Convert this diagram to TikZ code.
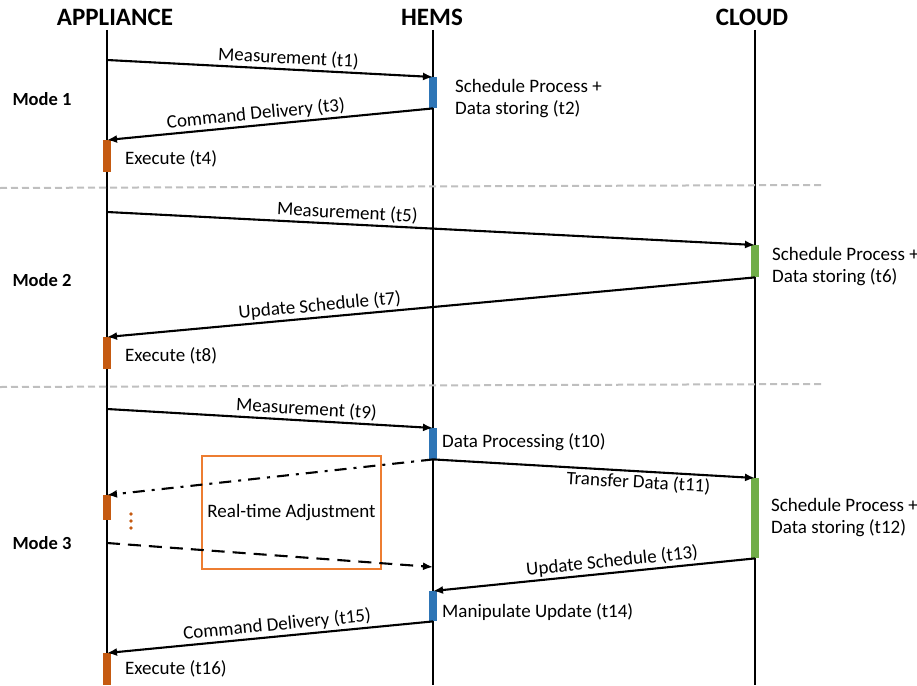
\documentclass[tikz,border=0pt]{standalone}
\usepackage{fontspec}
\setmainfont{Carlito}
\usetikzlibrary{arrows.meta}
\definecolor{barorange}{HTML}{C55A11}
\definecolor{barblue}{HTML}{2E75B6}
\definecolor{bargreen}{HTML}{70AD47}
\definecolor{boxorange}{HTML}{ED7D31}
\definecolor{sepgray}{HTML}{BFBFBF}
\tikzset{
  title/.style={font=\fontsize{25}{29}\selectfont\bfseries},
  modelbl/.style={font=\fontsize{18.5}{22}\selectfont\bfseries},
  txt/.style={font=\fontsize{19}{22}\selectfont, inner sep=0pt},
  lbl/.style={font=\fontsize{19}{22}\selectfont, sloped, inner sep=2pt},
  life/.style={line width=2.2pt},
  msg/.style={line width=2.1pt, -{Latex[length=10pt,width=8pt]}},
  sep/.style={sepgray, line width=2pt, dash pattern=on 7pt off 4pt},
  bar/.style={fill=#1, draw=none, minimum width=7.5pt, inner sep=0pt, anchor=north},
}
\begin{document}
\begin{tikzpicture}[x=1pt,y=-1pt]
\useasboundingbox (0,0) rectangle (917,685);
% titles
\node[title] (app) at (115,17) {APPLIANCE};
\node[title] (hems) at (432,17) {HEMS};
\node[title] (cloud) at (752,17) {CLOUD};
% lifelines
\coordinate (appTop) at (107,30);
\coordinate (appBot) at (107,685);
\coordinate (hemsTop) at (433,30);
\coordinate (hemsBot) at (433,685);
\coordinate (cloudTop) at (755,30);
\coordinate (cloudBot) at (755,685);
\draw[life] (appTop) -- (appBot);
\draw[life] (hemsTop) -- (hemsBot);
\draw[life] (cloudTop) -- (cloudBot);
% separators
\coordinate (s1a) at (0,188); \coordinate (s1b) at (822,185);
\coordinate (s2a) at (0,387); \coordinate (s2b) at (822,384);
\draw[sep] (s1a) -- (s1b);
\draw[sep] (s2a) -- (s2b);
% mode labels
\node[modelbl] (mode1) at (42,99) {Mode 1};
\node[modelbl] (mode2) at (42,280) {Mode 2};
\node[modelbl] (mode3) at (42,543) {Mode 3};

% ---------- Mode 1
\node[bar=barblue, minimum height=31pt] (b1) at (433,77) {};
\node[bar=barorange, minimum height=32pt] (e1) at (107,140) {};
\coordinate (m1s) at (107,60);
\draw[msg] (m1s) -- node[lbl, above, pos=0.555] {Measurement (t1)} (b1.north);
\draw[msg] (b1.south) -- node[lbl, above, pos=0.54] {Command Delivery (t3)} (e1.north);
\node[txt, anchor=west, align=left] (t2) at (455,99) {Schedule Process +\\Data storing (t2)};
\node[txt, anchor=west] (t4) at (125,159) {Execute (t4)};

% ---------- Mode 2
\node[bar=bargreen, minimum height=32pt] (g1) at (755,245) {};
\node[bar=barorange, minimum height=32pt] (e2) at (107,337) {};
\coordinate (m5s) at (107,212);
\draw[msg] (m5s) -- node[lbl, above, pos=0.37] {Measurement (t5)} (g1.north);
\draw[msg] (g1.south) -- node[lbl, above, pos=0.67] {Update Schedule (t7)} (e2.north);
\node[txt, anchor=west, align=left] (t6) at (772,267) {Schedule Process +\\Data storing (t6)};
\node[txt, anchor=west] (t8) at (125,356) {Execute (t8)};

% ---------- Mode 3
\node[bar=barblue, minimum height=31pt] (b2) at (433,428) {};
\node[bar=barorange, minimum height=25pt] (e3) at (107,495) {};
\node[bar=bargreen, minimum height=80pt] (g2) at (755,478) {};
\node[bar=barblue, minimum height=30pt] (b3) at (433,591) {};
\node[bar=barorange, minimum height=32pt] (e4) at (107,653) {};
\coordinate (m9s) at (107,409);
\draw[msg] (m9s) -- node[lbl, above, pos=0.61] {Measurement (t9)} (b2.north);
\node[txt, anchor=west] (t10) at (442,442) {Data Processing (t10)};
% real-time adjustment box
\node[draw=boxorange, line width=1.8pt, minimum width=179pt, minimum height=113pt,
      font=\fontsize{19}{22}\selectfont] (rta) at (291.5,512.5) {Real-time Adjustment};
\draw[msg, dash pattern=on 12pt off 7pt on 3pt off 7pt] (b2.south) -- (e3.north);
\coordinate (dss) at (107,543);
\coordinate (dse) at (433,567);
\draw[msg, dash pattern=on 13pt off 8pt] (dss) -- (dse);
\fill[barorange] (131,514) circle (1.8pt) (131,521) circle (1.8pt) (131,528) circle (1.8pt);
\draw[msg] (b2.south) -- node[lbl, below, pos=0.64] {Transfer Data (t11)} (g2.north);
\node[txt, anchor=west, align=left] (t12) at (771,518) {Schedule Process +\\Data storing (t12)};
\draw[msg] (g2.south) -- node[lbl, above, pos=0.44] {Update Schedule (t13)} (b3.north);
\node[txt, anchor=west] (t14) at (442,612) {Manipulate Update (t14)};
\draw[msg] (b3.south) -- node[lbl, above, pos=0.475] {Command Delivery (t15)} (e4.north);
\node[txt, anchor=west] (t16) at (125,669) {Execute (t16)};
\end{tikzpicture}
\end{document}
